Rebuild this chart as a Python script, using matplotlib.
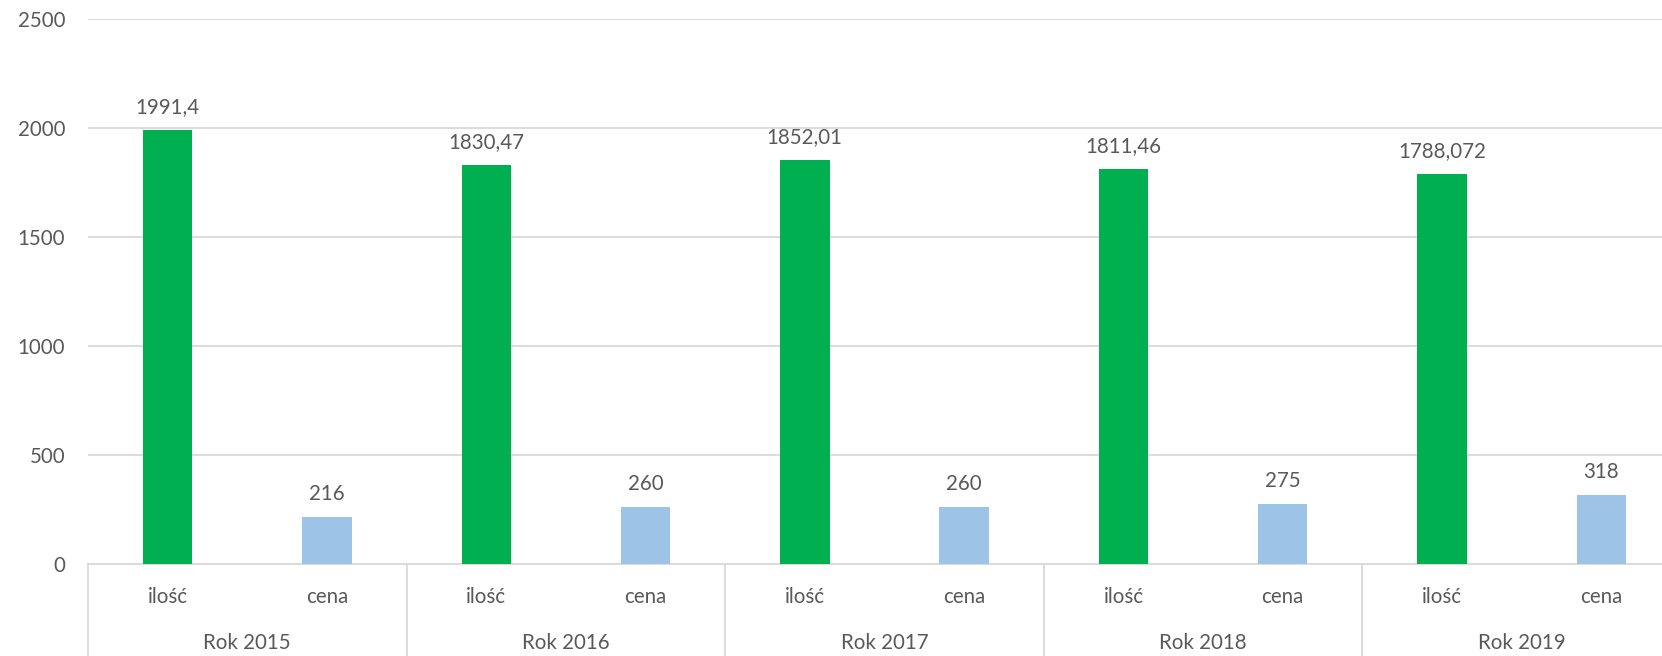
import numpy as np
from matplotlib import pyplot as plt
from matplotlib import transforms

years = ['Rok 2015', 'Rok 2016', 'Rok 2017', 'Rok 2018', 'Rok 2019']
sub_labels = ['ilość', 'cena']
ilosc = [1991.4, 1830.47, 1852.01, 1811.46, 1788.072]
cena = [216, 260, 260, 275, 318]
yticks = [0, 500, 1000, 1500, 2000, 2500]

plt.rcParams['font.family'] = ['Lato', 'DejaVu Sans']
fs = 14.8
txt = '#595959'
grid = '#D9D9D9'

W, H = 1662, 656
fig = plt.figure(figsize=(W/100, H/100), dpi=100)
ax = fig.add_axes([88/W, 92/H, 1593/W, 545/H])

n = len(years)
x_il = np.arange(n)*2 + 0.5
x_ce = np.arange(n)*2 + 1.5
bw = 0.31

ax.bar(x_il, ilosc, bw, color='#00B050', zorder=3)
ax.bar(x_ce, cena, bw, color='#9DC3E6', zorder=3)

# etykiety danych nad słupkami
for xs, vals in ((x_il, ilosc), (x_ce, cena)):
    for x, v in zip(xs, vals):
        ax.annotate(str(v).replace('.', ','), (x, v), xytext=(0, 17),
                    textcoords='offset pixels', ha='center', va='baseline',
                    color=txt, fontsize=fs)

ax.set_xlim(0, 2*n)
ax.set_ylim(0, 2500)
ax.set_yticks(yticks)
ax.set_yticklabels([str(t) for t in yticks], color=txt, fontsize=fs)
ax.tick_params(axis='y', length=0, pad=16.5)
ax.set_xticks([])
ax.yaxis.grid(True, color=grid, lw=1.3, zorder=0)
for s in ['left', 'right', 'top']:
    ax.spines[s].set_visible(False)
ax.spines['bottom'].set_color(grid)
ax.spines['bottom'].set_linewidth(1.3)

# oś kategorii dwupoziomowa
trans = transforms.blended_transform_factory(ax.transData, ax.transAxes)
for i in range(n + 1):
    ax.plot([2*i, 2*i], [0, -0.3], color=grid, lw=1.3, transform=trans, clip_on=False)

for i in range(n):
    for x, lab in zip((x_il[i], x_ce[i]), sub_labels):
        ax.annotate(lab, (x, 0), xycoords=trans, xytext=(0, -39),
                    textcoords='offset pixels', ha='center', va='baseline',
                    color=txt, fontsize=fs)
    ax.annotate(years[i], (2*i + 1, 0), xycoords=trans, xytext=(0, -85),
                textcoords='offset pixels', ha='center', va='baseline',
                color=txt, fontsize=fs)

fig.savefig('out.png', dpi=100)
